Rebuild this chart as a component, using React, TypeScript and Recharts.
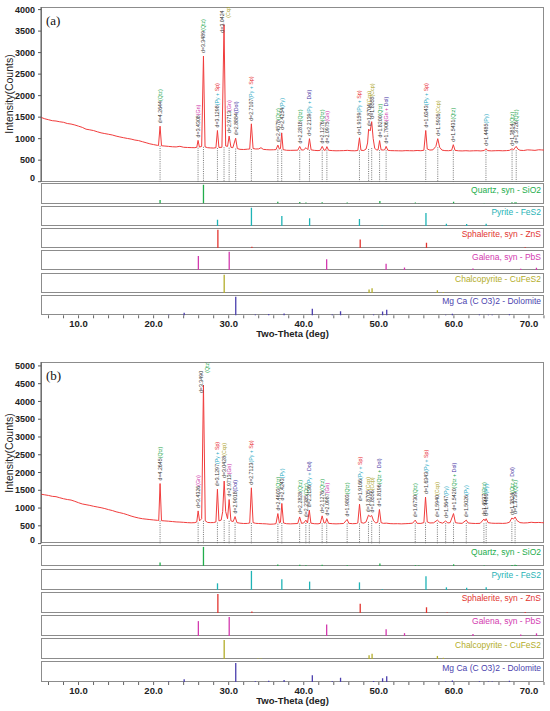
import React from "react";
import { ComposedChart, Line, Scatter, XAxis, YAxis } from "recharts";

// measured XRD scans, [2theta, counts]
const scanA: [number, number][] = [
  [5.0, 1495], [5.5, 1462], [6.0, 1440], [6.5, 1418], [7.0, 1410], [7.5, 1392], [8.0, 1380], [8.5, 1352],
  [9.0, 1340], [9.5, 1318], [10.0, 1290], [10.5, 1262], [11.0, 1220], [11.5, 1205], [12.0, 1188], [12.5, 1160],
  [13.0, 1135], [13.5, 1118], [14.0, 1102], [14.5, 1085], [15.0, 1060], [15.5, 1040], [16.0, 1022], [16.5, 1005],
  [17.0, 990], [17.5, 968], [18.0, 955], [18.5, 930], [19.0, 905], [19.5, 880], [20.0, 862], [20.5, 845],
  [20.65, 840], [20.86, 1290], [21.05, 835], [21.5, 828], [22.0, 820], [22.5, 812], [23.0, 808], [23.5, 822],
  [24.0, 800], [24.5, 795], [25.0, 792], [25.5, 790], [25.75, 800], [25.92, 960], [26.1, 805], [26.4, 820],
  [26.64, 2920], [26.85, 810], [27.2, 790], [27.6, 785], [28.0, 782], [28.3, 790], [28.5, 1190], [28.7, 795],
  [29.1, 800], [29.38, 3650], [29.6, 830], [29.85, 820], [30.06, 1060], [30.3, 800], [30.55, 790], [30.93, 1010],
  [31.15, 770], [31.5, 752], [32.0, 748], [32.5, 755], [32.8, 760], [33.02, 1345], [33.25, 770], [33.6, 760],
  [34.0, 762], [34.3, 790], [34.6, 752], [35.0, 745], [35.5, 740], [36.0, 742], [36.3, 745], [36.55, 850],
  [36.75, 760], [36.9, 770], [37.06, 1135], [37.25, 745], [37.7, 730], [38.2, 728], [38.7, 730], [39.2, 732],
  [39.46, 820], [39.7, 735], [40.0, 740], [40.3, 790], [40.55, 745], [40.76, 1000], [40.98, 740], [41.4, 728],
  [41.9, 722], [42.2, 730], [42.46, 820], [42.7, 730], [42.9, 735], [43.08, 815], [43.3, 730], [43.8, 722],
  [44.3, 718], [44.8, 720], [45.3, 722], [45.8, 728], [46.3, 720], [46.8, 718], [47.2, 725], [47.42, 1020],
  [47.62, 730], [48.0, 725], [48.3, 760], [48.5, 900], [48.64, 1220], [48.85, 1180], [49.05, 1395], [49.25, 1000],
  [49.45, 780], [49.7, 735], [49.9, 740], [50.1, 955], [50.3, 740], [50.6, 735], [50.8, 745], [50.97, 820],
  [51.2, 730], [51.6, 722], [52.1, 720], [52.6, 718], [53.1, 716], [53.6, 722], [54.1, 720], [54.6, 718],
  [55.1, 725], [55.6, 720], [56.0, 730], [56.25, 1190], [56.45, 760], [56.8, 735], [57.2, 740], [57.6, 820],
  [57.85, 1000], [58.1, 800], [58.4, 735], [58.8, 722], [59.3, 720], [59.7, 730], [59.92, 860], [60.15, 728],
  [60.6, 718], [61.1, 715], [61.6, 720], [62.1, 714], [62.6, 718], [63.1, 720], [63.6, 715], [64.05, 725],
  [64.27, 765], [64.5, 722], [65.0, 716], [65.5, 720], [66.0, 722], [66.5, 718], [67.0, 722], [67.4, 728],
  [67.75, 765], [67.95, 740], [68.1, 780], [68.3, 820], [68.5, 760], [68.8, 730], [69.3, 725], [69.8, 740],
  [70.3, 735], [70.8, 728], [71.3, 742], [71.7, 738], [72.0, 735],
];

const scanB: [number, number][] = [
  [5.0, 1390], [5.5, 1372], [6.0, 1355], [6.5, 1330], [7.0, 1320], [7.5, 1290], [8.0, 1262], [8.5, 1240],
  [9.0, 1225], [9.5, 1190], [10.0, 1150], [10.5, 1115], [11.0, 1095], [11.5, 1075], [12.0, 1050], [12.5, 1030],
  [13.0, 1010], [13.5, 985], [14.0, 955], [14.5, 930], [15.0, 895], [15.5, 870], [16.0, 845], [16.5, 812],
  [17.0, 775], [17.5, 745], [18.0, 720], [18.5, 700], [19.0, 688], [19.5, 676], [20.0, 665], [20.5, 655],
  [20.68, 650], [20.86, 1690], [21.05, 645], [21.5, 638], [22.0, 630], [22.5, 620], [23.0, 610], [23.5, 605],
  [24.0, 598], [24.5, 590], [25.0, 585], [25.5, 590], [25.75, 610], [25.93, 920], [26.12, 640], [26.4, 700],
  [26.64, 4460], [26.88, 640], [27.2, 595], [27.6, 590], [28.0, 592], [28.3, 610], [28.5, 1530], [28.7, 640],
  [29.0, 660], [29.2, 900], [29.4, 1760], [29.6, 900], [29.85, 700], [30.06, 1240], [30.3, 640], [30.6, 620],
  [30.85, 760], [31.1, 590], [31.5, 575], [32.0, 565], [32.5, 568], [32.8, 580], [33.02, 1570], [33.25, 590],
  [33.6, 570], [34.0, 565], [34.5, 560], [35.0, 555], [35.5, 545], [36.0, 550], [36.3, 560], [36.55, 845],
  [36.75, 580], [36.9, 600], [37.08, 1130], [37.3, 580], [37.7, 560], [38.2, 555], [38.7, 560], [39.2, 565],
  [39.45, 750], [39.7, 570], [40.0, 580], [40.28, 660], [40.5, 580], [40.74, 940], [40.95, 575], [41.4, 560],
  [41.9, 556], [42.2, 570], [42.45, 780], [42.7, 580], [42.9, 585], [43.06, 705], [43.3, 570], [43.8, 560],
  [44.3, 555], [44.8, 560], [45.3, 565], [45.78, 680], [46.0, 570], [46.5, 560], [47.0, 565], [47.2, 580],
  [47.43, 1110], [47.65, 590], [48.0, 575], [48.3, 610], [48.62, 800], [48.85, 760], [49.05, 790], [49.3, 640],
  [49.6, 580], [49.85, 600], [50.08, 960], [50.3, 590], [50.6, 570], [51.0, 575], [51.5, 562], [52.0, 558],
  [52.5, 560], [53.0, 555], [53.5, 560], [54.0, 565], [54.5, 575], [54.85, 660], [55.1, 570], [55.6, 568],
  [56.0, 590], [56.22, 1310], [56.45, 610], [56.8, 580], [57.3, 585], [57.8, 660], [58.1, 600], [58.5, 575],
  [58.9, 635], [59.2, 580], [59.5, 590], [59.95, 845], [60.2, 590], [60.6, 575], [61.1, 570], [61.65, 660],
  [61.9, 580], [62.4, 570], [62.9, 565], [63.5, 570], [64.0, 690], [64.15, 640], [64.3, 700], [64.55, 590],
  [65.0, 575], [65.5, 570], [66.0, 572], [66.5, 568], [67.0, 575], [67.4, 600], [67.72, 720], [67.95, 690],
  [68.15, 750], [68.4, 650], [68.8, 590], [69.3, 580], [69.8, 585], [70.3, 600], [70.8, 590], [71.3, 595],
  [71.7, 590], [72.0, 585],
];

// identified peaks: [2theta, d-spacing, phases]
type Peak = [number, string, string[]];

const peaksA: Peak[] = [
  [20.86, "4.2644", ["Qtz"]], [25.92, "3.4308", ["Gn"]], [26.64, "3.3489", ["Qtz"]],
  [28.5, "3.1298", ["Py", "Sp"]], [29.38, "3.0424", ["Ccp"]], [30.06, "2.9713", ["Gn"]],
  [30.93, "2.8884", ["Dol"]], [33.02, "2.7107", ["Py", "Sp"]], [36.55, "2.4578", ["Qtz"]],
  [37.06, "2.4254", ["Py"]], [39.46, "2.2818", ["Qtz"]], [40.76, "2.2139", ["Py", "Dol"]],
  [42.46, "2.1276", ["Qtz"]], [43.08, "2.0975", ["Gn"]], [47.42, "1.9159", ["Py", "Sp"]],
  [48.64, "1.8704", ["Ccp"]], [49.05, "1.8555", ["Ccp"]], [50.1, "1.8200", ["Qtz"]],
  [50.97, "1.7906", ["Gn", "Dol"]], [56.25, "1.6343", ["Py", "Sp"]], [57.85, "1.5926", ["Ccp"]],
  [59.92, "1.5431", ["Qtz"]], [64.27, "1.4485", ["Py"]], [67.75, "1.3814", ["Qtz"]],
  [68.3, "1.3726", ["Qtz"]],
];

const peaksB: Peak[] = [
  [20.86, "4.2645", ["Qtz"]], [25.93, "3.4326", ["Gn"]], [26.64, "3.3490", ["Qtz"]],
  [28.5, "3.1297", ["Py", "Sp"]], [29.4, "3.0428", ["Ccp"]], [30.06, "2.9713", ["Gn"]],
  [30.85, "2.9018", ["Dol"]], [33.02, "2.7123", ["Py", "Sp"]], [36.55, "2.4603", ["Qtz"]],
  [37.08, "2.4243", ["Py"]], [39.45, "2.2828", ["Qtz"]], [40.28, "2.2385", ["Qtz"]],
  [40.74, "2.2136", ["Py", "Dol"]], [42.45, "2.1276", ["Qtz"]], [43.06, "2.0987", ["Gn"]],
  [45.78, "1.9803", ["Qtz"]], [47.43, "1.9166", ["Py", "Sp"]], [48.62, "1.8705", ["Ccp"]],
  [49.05, "1.8556", ["Ccp"]], [50.08, "1.8196", ["Qtz", "Dol"]], [54.85, "1.6730", ["Qtz"]],
  [56.22, "1.6343", ["Py", "Sp"]], [57.8, "1.5940", ["Ccp"]], [58.9, "1.5647", ["Py"]],
  [59.95, "1.5420", ["Qtz", "Dol"]], [61.65, "1.5026", ["Py"]], [64.0, "1.4537", ["Qtz"]],
  [64.3, "1.4480", ["Py"]], [67.72, "1.3824", ["Qtz", "Dol"]], [68.15, "1.3739", ["Qtz"]],
];

// reference patterns (2theta, relative intensity)
const quartzSticks = [[20.86, 18], [26.64, 100], [36.54, 8], [39.47, 7], [40.29, 4], [42.45, 6], [45.79, 4], [50.14, 13], [54.87, 4], [55.33, 2], [59.96, 9], [64.03, 2], [67.74, 5], [68.14, 6], [68.32, 4]];
const pyriteSticks = [[28.51, 35], [33.03, 100], [37.08, 56], [40.78, 44], [47.42, 40], [50.45, 4], [56.28, 72], [59.0, 14], [61.7, 12], [64.3, 14]];
const sphaleriteSticks = [[28.56, 100], [33.09, 8], [47.52, 48], [56.35, 30], [59.1, 2], [69.5, 5]];
const galenaSticks = [[25.96, 78], [30.07, 100], [43.05, 60], [50.97, 36], [53.42, 15], [62.54, 10], [68.9, 8], [71.0, 14]];
const chalcopyriteSticks = [[29.4, 100], [33.9, 3], [34.3, 3], [48.7, 20], [49.1, 28], [57.8, 16], [58.6, 6]];
const dolomiteSticks = [[22.0, 3], [24.07, 14], [30.94, 100], [33.55, 4], [35.33, 7], [37.38, 10], [41.14, 36], [43.8, 4], [44.9, 22], [49.3, 5], [50.5, 20], [51.05, 30], [58.9, 3], [59.8, 8], [63.4, 4], [64.6, 3], [65.1, 3], [67.4, 6]];

const refNames = ["Quartz, syn - SiO2", "Pyrite - FeS2", "Sphalerite, syn - ZnS", "Galena, syn - PbS", "Chalcopyrite - CuFeS2", "Mg Ca (C O3)2 - Dolomite"];
const refColors = ["#22ad4c", "#1fb3b6", "#e2342f", "#d33aaf", "#b3ad2a", "#4b3fae"];
const refSticks = [quartzSticks, pyriteSticks, sphaleriteSticks, galenaSticks, chalcopyriteSticks, dolomiteSticks];

const PHASE_COLORS: Record<string, string> = {
  Qtz: "#1aa54b", Py: "#1fa9c4", Sp: "#e8262b", Gn: "#cc2ea8", Ccp: "#aba21f", Dol: "#3f2f9f",
};

const xTicks = [6, 8, 10, 12, 14, 16, 18, 20, 22, 24, 26, 28, 30, 32, 34, 36, 38, 40, 42, 44, 46, 48, 50, 52, 54, 56, 58, 60, 62, 64, 66, 68, 70, 72];
const yTicksA = [0, 500, 1000, 1500, 2000, 2500, 3000, 3500, 4000];
const yTicksB = [0, 500, 1000, 1500, 2000, 2500, 3000, 3500, 4000, 4500, 5000];

const W = 550;
const PL = 41;
const PR = 6;
const FONT = '"Liberation Sans", Arial, sans-serif';

const YTick = (props: any) => {
  const { x, y, payload } = props;
  const shift = payload.value === 0 ? -4 : 0;
  return (
    <text x={x} y={y + shift} dy="0.35em" textAnchor="end" fontSize={9} fontWeight="bold" fill="#222">
      {payload.value}
    </text>
  );
};

const XTick = (props: any) => {
  const { x, y, payload } = props;
  if (payload.value % 10 !== 0) return <g />;
  return (
    <text x={x} y={y} dy="0.71em" textAnchor="middle" fontSize={9.5} fontWeight="bold" fill="#222">
      {payload.value.toFixed(1)}
    </text>
  );
};

const phaseSpans = (ph: string[]) =>
  ph.map((p, i) => (
    <tspan key={p} fill={PHASE_COLORS[p]}>
      {(i === 0 ? "(" : "") + p + (i < ph.length - 1 ? " + " : ")")}
    </tspan>
  ));

const PeakLabel = (props: any) => {
  const { cx, cy, payload } = props;
  if (cx == null || cy == null) return <g />;
  const fs = 5.3;
  const dText = "d=" + payload.d;
  const phText = "(" + payload.ph.join(" + ") + ")";
  const dLen = dText.length * fs * 0.56;
  const phLen = phText.length * fs * 0.56;
  const y0 = cy - 3;
  if (y0 - dLen - phLen > 0) {
    return (
      <text x={cx} y={y0} transform={`rotate(-90 ${cx} ${y0})`} fontSize={fs} dominantBaseline="central" fill="#333">
        <tspan>{dText}</tspan>
        {phaseSpans(payload.ph)}
      </text>
    );
  }
  // tall peak: split the label into two columns beside the peak
  const y1 = cy + 8;
  const y2 = Math.max(y1 - dLen + 2, phLen + 3);
  return (
    <g>
      <text x={cx - 2.5} y={y1} transform={`rotate(-90 ${cx - 2.5} ${y1})`} fontSize={fs} dominantBaseline="central" fill="#333">
        {dText}
      </text>
      <text x={cx + 3.5} y={y2} transform={`rotate(-90 ${cx + 3.5} ${y2})`} fontSize={fs} dominantBaseline="central">
        {phaseSpans(payload.ph)}
      </text>
    </g>
  );
};

function Panel({ tag, scan, peaks, yMax, yTicks, top, mainH, stripTop, stripH, pitch }: any) {
  const lineData = scan.map(([t, c]: number[]) => ({ t, c }));
  const labelData = peaks.map(([t, d, ph]: Peak) => {
    const near = scan.filter(([s]: number[]) => Math.abs(s - t) <= 0.15).map((p: number[]) => p[1]);
    const around = scan.filter(([s]: number[]) => Math.abs(s - t) <= 0.5).map((p: number[]) => p[1]);
    return { t, c: Math.max(...near), base: Math.min(...around), d, ph };
  });
  const plotBottom = 7 + mainH;
  const plotW = W - PL - PR;
  const lastBottom = stripTop + pitch * 5 + stripH;

  const dotted = (props: any) => {
    const { cx, cy } = props;
    if (cx == null || cy == null) return <g />;
    return <line x1={cx} x2={cx} y1={cy} y2={plotBottom} stroke="#555" strokeWidth={0.8} strokeDasharray="1 1.2" />;
  };

  return (
    <>
      <div style={{ position: "absolute", left: PL, top, width: plotW, height: mainH, border: "1px solid #8c8c8c", boxSizing: "border-box" }} />
      <div style={{ position: "absolute", left: 0, top: top - 7, width: W, height: mainH + 10 }}>
        <ComposedChart width={W} height={mainH + 10} margin={{ top: 7, right: PR, bottom: 3, left: 0 }}>
          <XAxis dataKey="t" type="number" domain={[5, 72]} hide allowDataOverflow />
          <YAxis
            type="number"
            domain={[0, yMax]}
            ticks={yTicks}
            interval={0}
            width={PL}
            tickSize={3}
            tickMargin={3}
            axisLine={{ stroke: "#555" }}
            tickLine={{ stroke: "#555" }}
            tick={YTick}
            allowDataOverflow
          />
          <Scatter data={labelData} dataKey="base" shape={dotted} isAnimationActive={false} />
          <Line data={lineData} dataKey="c" type="linear" stroke="#f03b3b" strokeWidth={1} dot={false} isAnimationActive={false} />
          <Scatter data={labelData} dataKey="c" shape={PeakLabel} isAnimationActive={false} />
        </ComposedChart>
      </div>
      <div style={{ position: "absolute", left: 46, top: top + 6, fontFamily: "'Liberation Serif', 'Times New Roman', serif", fontSize: 13, color: "#111" }}>
        {tag}
      </div>
      <div
        style={{
          position: "absolute", left: 9 - 60, top: top + mainH / 2 - 7, width: 120, height: 14, lineHeight: "14px",
          textAlign: "center", fontSize: 10.5, color: "#222", transform: "rotate(-90deg)",
        }}
      >
        Intensity(Counts)
      </div>
      {refSticks.map((sticks, i) => {
        const st = stripTop + pitch * i;
        const withAxis = i === refSticks.length - 1;
        const h = stripH + (withAxis ? 30 : 0);
        const data = sticks.map(([t, r]) => ({ t, r }));
        const stick = (props: any) => {
          const { cx, cy } = props;
          if (cx == null || cy == null) return <g />;
          return <line x1={cx} x2={cx} y1={cy} y2={stripH} stroke={refColors[i]} strokeWidth={1.3} />;
        };
        return (
          <React.Fragment key={refNames[i]}>
            <div style={{ position: "absolute", left: PL, top: st, width: plotW, height: stripH, border: "1.5px solid #8c8c8c", boxSizing: "border-box" }} />
            <div style={{ position: "absolute", left: 0, top: st, width: W, height: h }}>
              <ComposedChart width={W} height={h} margin={{ top: 0, right: PR, bottom: 0, left: PL }}>
                <XAxis
                  dataKey="t"
                  type="number"
                  domain={[5, 72]}
                  hide={!withAxis}
                  ticks={xTicks}
                  interval={0}
                  height={withAxis ? 30 : 0}
                  tickSize={3}
                  tickMargin={2}
                  axisLine={false}
                  tickLine={{ stroke: "#666" }}
                  tick={XTick}
                  allowDataOverflow
                />
                <YAxis type="number" domain={[0, 110]} hide width={0} />
                <Scatter data={data} dataKey="r" shape={stick} isAnimationActive={false} />
              </ComposedChart>
            </div>
            <div style={{ position: "absolute", left: 0, top: st + 1.5, width: 541, textAlign: "right", fontSize: 8.5, lineHeight: "10px", color: refColors[i] }}>
              {refNames[i]}
            </div>
          </React.Fragment>
        );
      })}
      <div style={{ position: "absolute", left: PL, top: lastBottom + 13, width: plotW, textAlign: "center", fontSize: 9.5, fontWeight: "bold", lineHeight: "12px", color: "#222" }}>
        Two-Theta (deg)
      </div>
    </>
  );
}

export default function App() {
  return (
    <div style={{ position: "absolute", left: 0, top: 0, width: W, height: 711, background: "#fff", fontFamily: FONT, overflow: "hidden" }}>
      <Panel tag="(a)" scan={scanA} peaks={peaksA} yMax={4060} yTicks={yTicksA} top={7} mainH={174.7} stripTop={183.3} stripH={20.3} pitch={22.3} />
      <Panel tag="(b)" scan={scanB} peaks={peaksB} yMax={5110} yTicks={yTicksB} top={361.7} mainH={181.6} stripTop={545.3} stripH={21} pitch={23.2} />
    </div>
  );
}
